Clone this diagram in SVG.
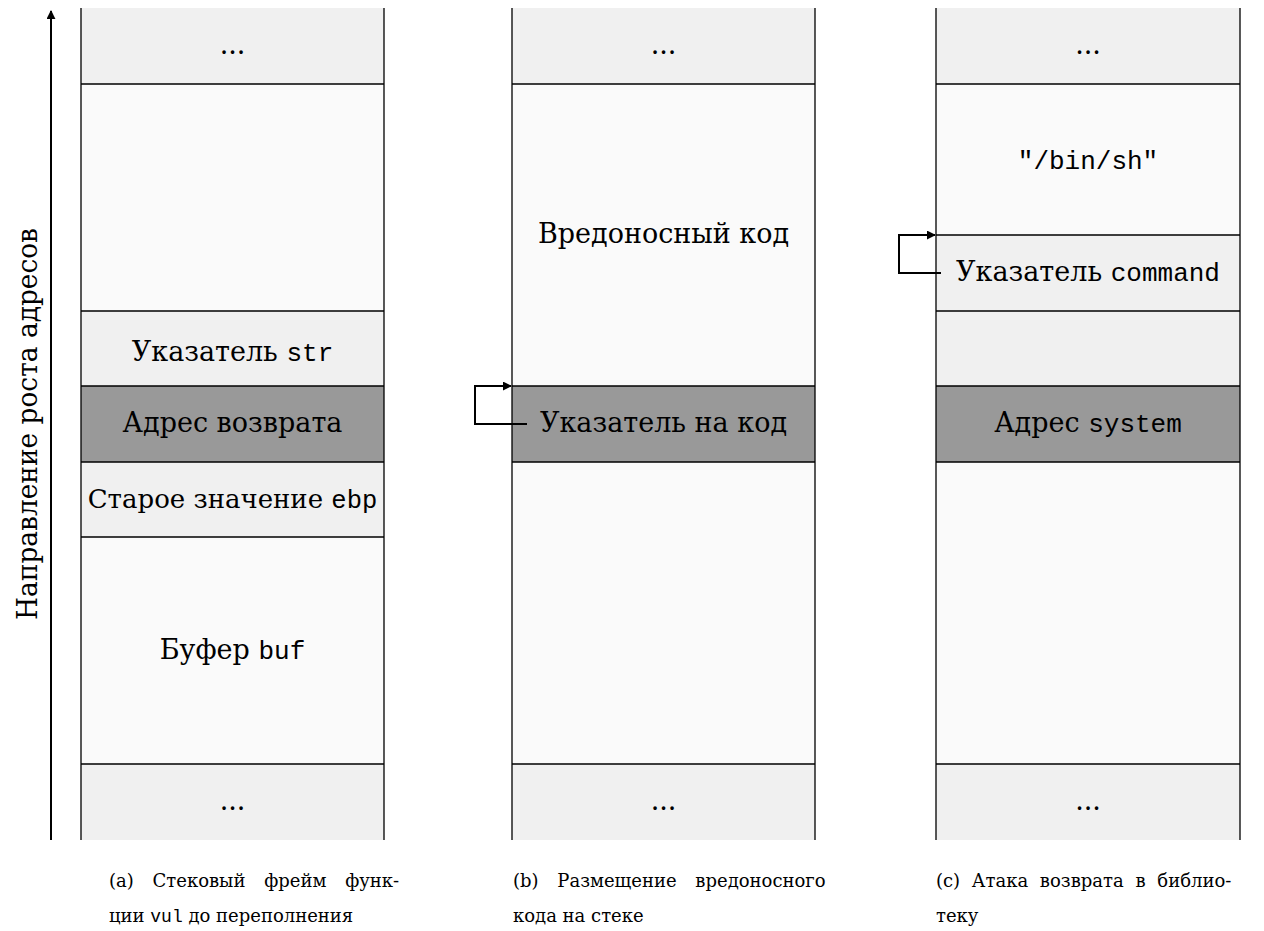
<svg xmlns="http://www.w3.org/2000/svg" width="1264" height="931" viewBox="0 0 1264 931">
<defs>
<style>
.lt{fill:#f0f0f0}
.wh{fill:#fafafa}
.dk{fill:#999999}
.ln{stroke:#000;stroke-width:1.3;fill:none}
.t{font-family:"DejaVu Serif",serif;font-size:27px;fill:#000;text-anchor:middle}
.m{font-family:"Liberation Mono","DejaVu Sans Mono",monospace;font-size:26px}
.cap{font-family:"DejaVu Serif",serif;font-size:18px;fill:#000}
.cap .m{font-size:18px}
.ar{stroke:#000;stroke-width:2;fill:none}
</style>
<marker id="ah" viewBox="0 0 10 10" refX="9" refY="5" markerWidth="4.5" markerHeight="4.5" orient="auto" markerUnits="strokeWidth">
<path d="M0,0 L10,5 L0,10 z" fill="#000"/>
</marker>
</defs>
<rect width="1264" height="931" fill="#fff"/>

<g id="colA">
<rect class="lt" x="81" y="8" width="303" height="76"/>
<rect class="wh" x="81" y="84" width="303" height="227"/>
<rect class="lt" x="81" y="311" width="303" height="75"/>
<rect class="dk" x="81" y="386" width="303" height="76"/>
<rect class="lt" x="81" y="462" width="303" height="75"/>
<rect class="wh" x="81" y="537" width="303" height="227"/>
<rect class="lt" x="81" y="764" width="303" height="76"/>
<path class="ln" d="M81,8V840M384,8V840M81,84H384M81,311H384M81,386H384M81,462H384M81,537H384M81,764H384"/>
<text class="t" x="232.5" y="54">...</text>
<text class="t" x="232.5" y="361">Указатель <tspan class="m">str</tspan></text>
<text class="t" x="232.5" y="432">Адрес возврата</text>
<text class="t" x="232.5" y="508" style="font-size:26px">Старое значение <tspan class="m" style="font-size:25.5px">ebp</tspan></text>
<text class="t" x="232.5" y="659">Буфер <tspan class="m">buf</tspan></text>
<text class="t" x="232.5" y="810">...</text>
</g>

<g id="colB">
<rect class="lt" x="512" y="8" width="303" height="76"/>
<rect class="wh" x="512" y="84" width="303" height="302"/>
<rect class="dk" x="512" y="386" width="303" height="76"/>
<rect class="wh" x="512" y="462" width="303" height="302"/>
<rect class="lt" x="512" y="764" width="303" height="76"/>
<path class="ln" d="M512,8V840M815,8V840M512,84H815M512,386H815M512,462H815M512,764H815"/>
<text class="t" x="663.5" y="54">...</text>
<text class="t" x="663.5" y="243">Вредоносный код</text>
<text class="t" x="663.5" y="432">Указатель на код</text>
<text class="t" x="663.5" y="810">...</text>
</g>

<g id="colC">
<rect class="lt" x="936" y="8" width="304" height="76"/>
<rect class="wh" x="936" y="84" width="304" height="151"/>
<rect class="lt" x="936" y="235" width="304" height="76"/>
<rect class="lt" x="936" y="311" width="304" height="75"/>
<rect class="dk" x="936" y="386" width="304" height="76"/>
<rect class="wh" x="936" y="462" width="304" height="302"/>
<rect class="lt" x="936" y="764" width="304" height="76"/>
<path class="ln" d="M936,8V840M1240,8V840M936,84H1240M936,235H1240M936,311H1240M936,386H1240M936,462H1240M936,764H1240"/>
<text class="t" x="1088" y="54">...</text>
<text class="t m" x="1088" y="169">"/bin/sh"</text>
<text class="t" x="1088" y="281">Указатель <tspan class="m">command</tspan></text>
<text class="t" x="1088" y="432">Адрес <tspan class="m">system</tspan></text>
<text class="t" x="1088" y="810">...</text>
</g>

<g id="axis">
<text class="t" transform="translate(37,424) rotate(-90)" x="0" y="0" textLength="392" lengthAdjust="spacingAndGlyphs">Направление роста адресов</text>
</g>

<g id="connectors">
<path class="ar" d="M51,840V11" marker-end="url(#ah)"/>
<path class="ar" d="M527,424H475V386H511" marker-end="url(#ah)"/>
<path class="ar" d="M941,273H899V235H935" marker-end="url(#ah)"/>
</g>

<g id="captions">
<text class="cap" x="109" y="887" style="word-spacing:13px">(a) Стековый фрейм функ-</text>
<text class="cap" x="109" y="922">ции <tspan class="m">vul</tspan> до переполнения</text>
<text class="cap" x="513" y="887" style="word-spacing:13px">(b) Размещение вредоносного</text>
<text class="cap" x="513" y="922">кода на стеке</text>
<text class="cap" x="936" y="887" style="word-spacing:6px">(c) Атака возврата в библио-</text>
<text class="cap" x="936" y="922">теку</text>
</g>
</svg>
